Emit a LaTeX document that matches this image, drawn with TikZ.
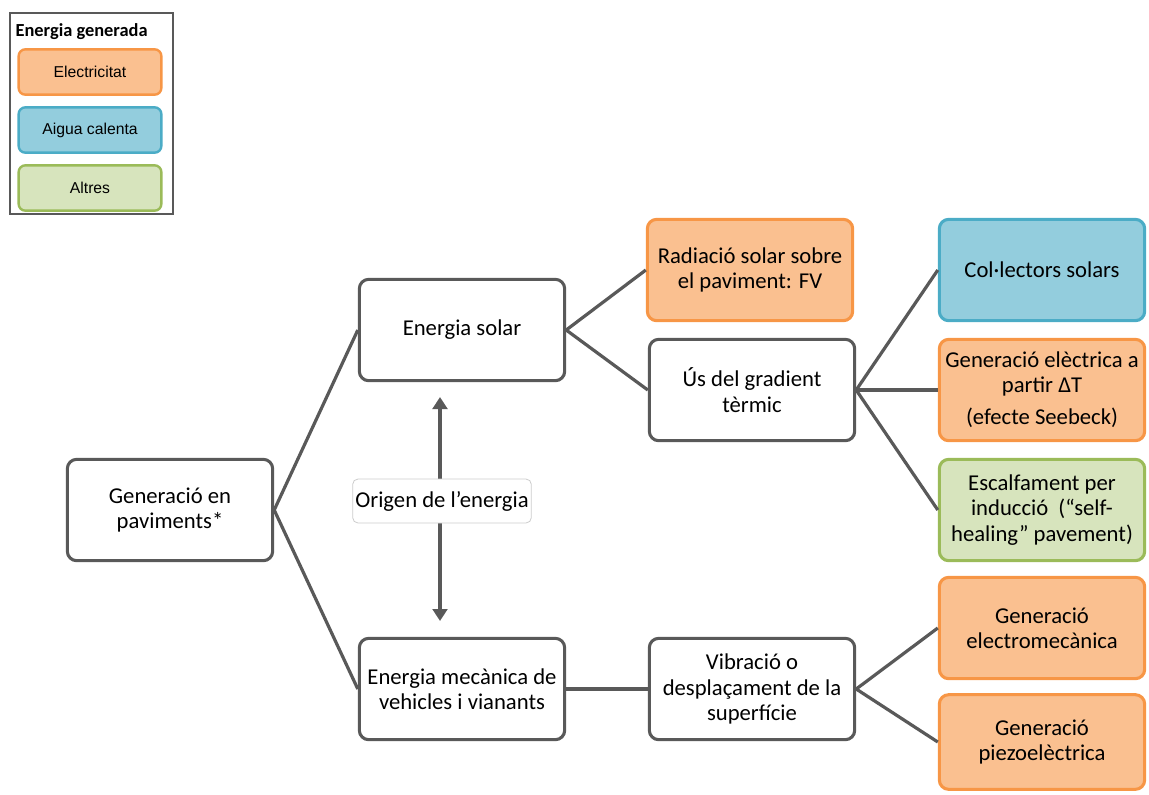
\documentclass[tikz,border=0pt]{standalone}
\usepackage{fontspec}
\setmainfont{Carlito}
\newfontfamily\legendfont{Liberation Sans}
\usepackage{tikz}
\usetikzlibrary{positioning,arrows.meta}

\definecolor{boxgray}{HTML}{595959}
\definecolor{elecfill}{HTML}{FAC090}
\definecolor{elecdraw}{HTML}{F79646}
\definecolor{waterfill}{HTML}{93CDDD}
\definecolor{waterdraw}{HTML}{4BACC6}
\definecolor{otherfill}{HTML}{D7E4BD}
\definecolor{otherdraw}{HTML}{9BBB59}

\begin{document}
\begin{tikzpicture}[
x=0.75pt, y=-0.75pt,
roundnode/.style={rectangle, rounded corners=7pt, line width=2.3pt, draw=boxgray, fill=white,
  minimum width=154pt, minimum height=76pt, align=center, inner sep=1pt,
  font=\fontsize{17}{19}\selectfont},
elecnode/.style={roundnode, draw=elecdraw, fill=elecfill},
waternode/.style={roundnode, draw=waterdraw, fill=waterfill},
othernode/.style={roundnode, draw=otherdraw, fill=otherfill},
keynode/.style={rectangle, rounded corners=5pt, line width=1.8pt, minimum width=107pt,
  minimum height=34pt, font=\legendfont\fontsize{11.8}{13}\selectfont},
link/.style={line width=2.4pt, draw=boxgray},
]
\useasboundingbox (0,0) rectangle (1149,794);

%Legend
\draw[line width=1.8pt, draw=boxgray] (10,13) rectangle (173,214);
\node[font=\bfseries\fontsize{13.8}{15}\selectfont, anchor=west, inner sep=1pt] (keytitle) at (14,32) {Energia generada};
\node[keynode, draw=elecdraw, fill=elecfill]   (keyelec)  at (90,72)  {Electricitat};
\node[keynode, draw=waterdraw, fill=waterfill] (keywater) at (90,130) {Aigua calenta};
\node[keynode, draw=otherdraw, fill=otherfill] (keyother) at (90,188) {Altres};

%Nodes
\node[roundnode] (root)    at (170,510) {Generació en\\paviments*};
\node[roundnode] (solar)   at (462,330) {Energia solar};
\node[roundnode] (mech)    at (462,689) {Energia mecànica de\\vehicles i vianants};
\node[elecnode]  (pv)      at (750,270) {Radiació solar sobre\\el paviment: FV};
\node[roundnode] (thermal) at (752,390) {Ús del gradient\\tèrmic};
\node[roundnode] (vibr)    at (752,689) {Vibració o\\desplaçament de la\\superfície};
\node[waternode] (collect) at (1042,270) {Col·lectors solars};
\node[elecnode]  (seebeck) at (1042,390) {Generació elèctrica a\\partir ΔT\\[5pt](efecte Seebeck)};
\node[othernode] (heating) at (1042,510) {Escalfament per\\inducció~ (“self-\\healing” pavement)};
\node[elecnode]  (electro) at (1042,628) {Generació\\electromecànica};
\node[elecnode, minimum height=71pt] (piezo) at (1042,742) {Generació\\piezoelèctrica};

%Origin label
\coordinate (origtop) at (440,397);
\coordinate (origbot) at (440,621);
\draw[line width=3pt, draw=boxgray, {Triangle[length=9pt,width=11pt]}-{Triangle[length=9pt,width=11pt]}] (origtop) -- (origbot);
\node[rectangle, rounded corners=4pt, draw=black!20, line width=0.6pt, fill=white, inner xsep=1pt,
  minimum width=134pt, minimum height=33pt, font=\fontsize{17}{19}\selectfont] (origin) at (442,501) {Origen de l’energia};

%Lines
\draw[link] (root.east) -- (solar.west);
\draw[link] (root.east) -- (mech.west);
\draw[link] (solar.east) -- (pv.west);
\draw[link] (solar.east) -- (thermal.west);
\draw[link] (thermal.east) -- (collect.west);
\draw[link] (thermal.east) -- (seebeck.west);
\draw[link] (thermal.east) -- (heating.west);
\draw[link] (mech.east) -- (vibr.west);
\draw[link] (vibr.east) -- (electro.west);
\draw[link] (vibr.east) -- (piezo.west);
\end{tikzpicture}
\end{document}
